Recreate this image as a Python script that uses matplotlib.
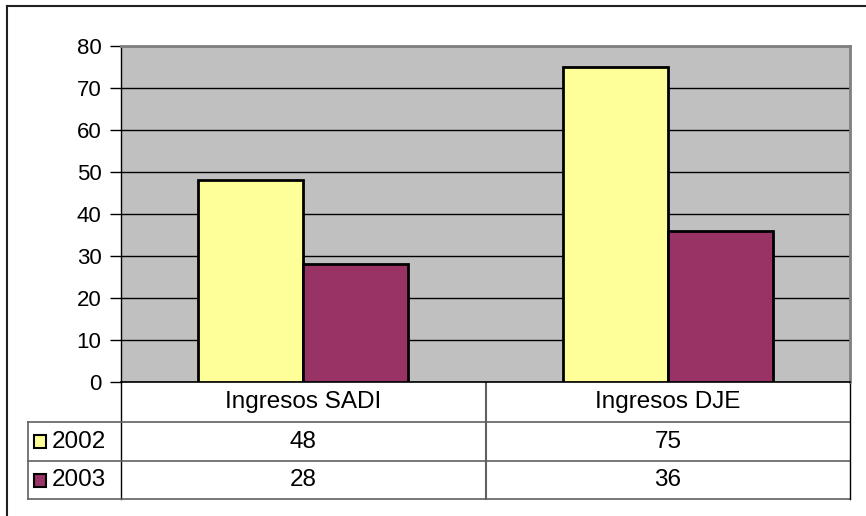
import matplotlib.pyplot as plt
import numpy as np

plt.rcParams['font.family'] = ['Liberation Sans', 'DejaVu Sans']

# --------- data ---------
categories = ["Ingresos SADI", "Ingresos DJE"]
series = ["2002", "2003"]
vals_2002 = [48, 75]
vals_2003 = [28, 36]
colors = ["#FFFF99", "#993366"]
yticks = [0, 10, 20, 30, 40, 50, 60, 70, 80]

W, H = 866, 516
fig = plt.figure(figsize=(W / 100, H / 100), dpi=100)

# plot area in pixels
L, T, R, B = 121, 46, 850, 382
ax = fig.add_axes([L / W, (H - B) / H, (R - L) / W, (B - T) / H])
ax.set_facecolor("#C0C0C0")

x = np.arange(len(categories))
bw = 0.288
ax.bar(x - bw / 2, vals_2002, bw, color=colors[0], edgecolor="black", linewidth=2, zorder=3)
ax.bar(x + bw / 2, vals_2003, bw, color=colors[1], edgecolor="black", linewidth=2, zorder=3)

ax.set_xlim(-0.5, len(categories) - 0.5)
ax.set_ylim(0, 80)
ax.set_yticks(yticks)
ax.tick_params(axis='y', labelsize=16, length=8, width=1, direction='out', pad=6)
ax.set_xticks([])
ax.yaxis.grid(True, color="black", linewidth=1)
ax.set_axisbelow(True)
for s in ["top", "right"]:
    ax.spines[s].set_color("#808080")
    ax.spines[s].set_linewidth(2)
ax.spines["left"].set_linewidth(1)
ax.spines["bottom"].set_linewidth(1.2)

# --------- data table and frame (pixel coordinates) ---------
ov = fig.add_axes([0, 0, 1, 1], zorder=-1)
ov.set_xlim(0, W)
ov.set_ylim(H, 0)
ov.axis("off")

ov.plot([7, W], [6, 6], color="#202020", lw=1.5)
ov.plot([7, 7], [6, H], color="#202020", lw=1.5)

r0, r1, r2, r3 = B, 422, 461, 499
tl = 28
lc = "#606060"
fs = 17.5
ov.plot([L, L], [r0, r3], color="black", lw=1)
for yy in (r1, r2, r3):
    ov.plot([tl, R], [yy, yy], color=lc, lw=1.2)
ov.plot([tl, tl], [r1, r3], color=lc, lw=1.2)
ov.plot([R, R], [r0, r3], color="black", lw=1)
catw = (R - L) / len(categories)
for i in range(1, len(categories)):
    ov.plot([L + i * catw] * 2, [r0, r3], color=lc, lw=1.5)

for i, c in enumerate(categories):
    cx = L + (i + 0.5) * catw
    ov.text(cx, (r0 + r1) / 2, c, ha="center", va="center", fontsize=fs)
    ov.text(cx, (r1 + r2) / 2, str(vals_2002[i]), ha="center", va="center", fontsize=fs)
    ov.text(cx, (r2 + r3) / 2, str(vals_2003[i]), ha="center", va="center", fontsize=fs)

for j, (name, rows) in enumerate(zip(series, [(r1, r2), (r2, r3)])):
    cy = sum(rows) / 2
    ov.add_patch(plt.Rectangle((33.5, cy - 6.5), 12, 13, facecolor=colors[j], edgecolor="black", lw=1.5))
    ov.text(52, cy, name, ha="left", va="center", fontsize=fs)

fig.savefig("out.png", dpi=100)
